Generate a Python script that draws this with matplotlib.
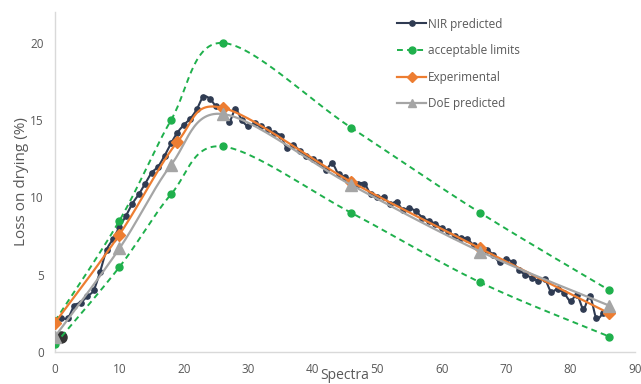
import numpy as np
import matplotlib
matplotlib.use("Agg")
import matplotlib.pyplot as plt
from matplotlib.lines import Line2D

# ---------------- data ----------------
nir_x = list(range(1, 86))
nir_y = [2.2, 2.2, 3.0, 3.2, 3.6, 4.0, 5.2, 6.6, 7.3, 8.1,
         8.8, 9.6, 10.2, 10.9, 11.6, 12.0, 12.7, 13.5, 14.2, 14.7,
         15.1, 15.7, 16.5, 16.4, 15.9, 15.8, 14.9, 15.7, 15.0, 14.6,
         14.8, 14.6, 14.4, 14.2, 14.0, 13.2, 13.4, 13.0, 12.7, 12.5,
         12.3, 11.8, 12.2, 11.5, 11.3, 11.1, 10.9, 10.9, 10.2, 10.0,
         10.0, 9.6, 9.7, 9.2, 9.3, 9.1, 8.7, 8.5, 8.3, 8.0,
         7.8, 7.5, 7.4, 7.3, 6.9, 6.8, 6.6, 6.3, 5.8, 6.0,
         5.8, 5.3, 5.0, 4.8, 4.6, 4.7, 3.9, 4.1, 3.8, 3.3,
         3.7, 2.8, 3.6, 2.2, 2.5]
nir_start_x = [1]
nir_start_y = [1.0]

limit_x = [0, 10, 18, 26, 46, 66, 86]
limit_upper = [2.0, 8.5, 15.0, 20.0, 14.5, 9.0, 4.0]
limit_lower = [0.5, 5.5, 10.2, 13.3, 9.0, 4.5, 1.0]

exp_x = [0, 10, 19, 26, 46, 66, 86]
exp_y = [1.9, 7.6, 13.6, 15.8, 11.0, 6.7, 2.5]

doe_x = [0, 10, 18, 26, 46, 66, 86]
doe_y = [1.0, 6.7, 12.1, 15.4, 10.8, 6.5, 3.0]

x_ticks = [0, 10, 20, 30, 40, 50, 60, 70, 80, 90]
y_ticks = [0, 5, 10, 15, 20]


def smooth(xs, ys, n=30):
    """Excel-like smoothed line (cubic Bezier, Catmull-Rom style control points)."""
    p = np.column_stack([np.asarray(xs, float), np.asarray(ys, float)])
    m = len(p)
    out = []
    t = np.linspace(0, 1, n)[:, None]
    for i in range(m - 1):
        p0 = p[i - 1] if i > 0 else p[i]
        p1 = p[i]
        p2 = p[i + 1]
        p3 = p[i + 2] if i + 2 < m else p[i + 1]
        c1 = p1 + (p2 - p0) / 6.0
        c2 = p2 - (p3 - p1) / 6.0
        seg = ((1 - t) ** 3) * p1 + 3 * ((1 - t) ** 2) * t * c1 + 3 * (1 - t) * t ** 2 * c2 + t ** 3 * p2
        out.append(seg if i == 0 else seg[1:])
    s = np.vstack(out)
    return s[:, 0], s[:, 1]


NAVY = "#2f3b52"
GREEN = "#1fb04c"
ORANGE = "#ed7d31"
GREY = "#a5a5a5"
TXT = "#595959"

plt.rcParams['font.family'] = ['Open Sans', 'DejaVu Sans']

fig = plt.figure(figsize=(6.41, 3.84), dpi=100)
ax = fig.add_axes([55 / 641, 32 / 384, 580 / 641, 340 / 384])

# NIR predicted
sx, sy = smooth(nir_x, nir_y, 10)
ax.plot(sx, sy, color=NAVY, lw=1.5, zorder=3)
ax.plot(nir_x, nir_y, 'o', color=NAVY, ms=3.8, zorder=3)
ax.plot(nir_start_x, nir_start_y, 'o', color="#333333", ms=8, zorder=3)

# acceptable limits
for ly in (limit_upper, limit_lower):
    sx, sy = smooth(limit_x, ly)
    ax.plot(sx, sy, color=GREEN, lw=1.4, ls=(0, (3, 2.2)), zorder=4)
    ax.plot(limit_x, ly, 'o', color=GREEN, ms=5, zorder=4)

# Experimental
sx, sy = smooth(exp_x, exp_y)
ax.plot(sx, sy, color=ORANGE, lw=1.6, zorder=5)
ax.plot(exp_x, exp_y, 'D', color=ORANGE, ms=6.5, zorder=5)

# DoE predicted
sx, sy = smooth(doe_x, doe_y)
ax.plot(sx, sy, color=GREY, lw=1.6, zorder=6)
ax.plot(doe_x, doe_y, '^', color=GREY, ms=8, zorder=6)

ax.set_xlim(0, 90)
ax.set_ylim(0, 22)
ax.set_xticks(x_ticks)
ax.set_yticks(y_ticks)
ax.tick_params(length=0, labelsize=8.5, labelcolor=TXT, pad=8)
for s in ('top', 'right'):
    ax.spines[s].set_visible(False)
for s in ('left', 'bottom'):
    ax.spines[s].set_color("#d9d9d9")
    ax.spines[s].set_linewidth(1.0)
ax.set_xlabel("Spectra", fontsize=10, color=TXT, labelpad=-6)
ax.set_ylabel("Loss on drying (%)", fontsize=11, color=TXT, labelpad=1)

handles = [
    Line2D([], [], color=NAVY, lw=1.5, marker='o', ms=3.8),
    Line2D([], [], color=GREEN, lw=1.4, ls=(0, (3, 2.2)), marker='o', ms=5),
    Line2D([], [], color=ORANGE, lw=1.6, marker='D', ms=5),
    Line2D([], [], color=GREY, lw=1.6, marker='^', ms=5.5),
]
labels = ["NIR predicted", "acceptable limits", "Experimental", "DoE predicted"]
leg = ax.legend(handles, labels, loc='upper left', bbox_to_anchor=(0.571, 1.015),
                frameon=False, fontsize=8.5, handlelength=2.5, handletextpad=0.15,
                labelspacing=1.15)
for t in leg.get_texts():
    t.set_color(TXT)

fig.savefig("out.png", dpi=100)
